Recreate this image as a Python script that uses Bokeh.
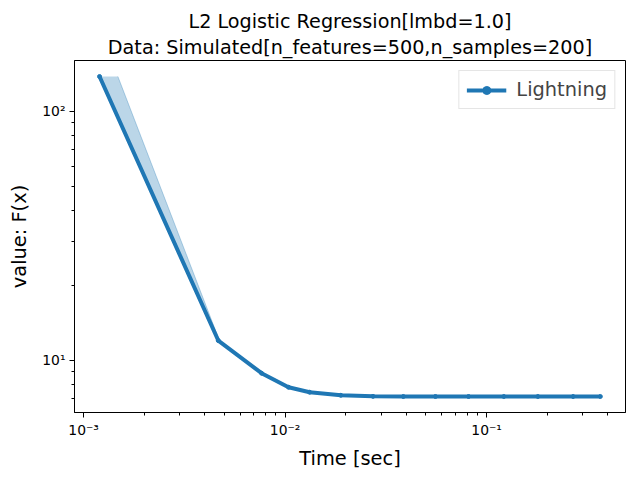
import numpy as np
from bokeh.plotting import figure
from bokeh.models import (FixedTicker, Title, Legend, LegendItem, Range1d,
                          ColumnDataSource, CustomJSTickFormatter)
from bokeh.embed import file_html
from bokeh.resources import INLINE

# ---- data ----
solver = "Lightning"
time_median = [1.20e-3, 4.66e-3, 7.64e-3, 1.04e-2, 1.324e-2, 1.89e-2, 2.73e-2,
               3.86e-2, 5.57e-2, 8.13e-2, 0.1217, 0.1795, 0.2685, 0.3665]
time_q9 = [1.48e-3, 4.72e-3, 7.70e-3, 1.05e-2, 1.33e-2, 1.90e-2, 2.75e-2,
           3.88e-2, 5.60e-2, 8.16e-2, 0.1222, 0.1800, 0.2690, 0.3670]
objective = [138.2, 12.0, 8.87, 7.79, 7.44, 7.23, 7.16,
             7.15, 7.15, 7.15, 7.15, 7.15, 7.15, 7.15]

title1 = "L2 Logistic Regression[lmbd=1.0]"
title2 = "Data: Simulated[n_features=500,n_samples=200]"
x_major = [1e-3, 1e-2, 1e-1]
y_major = [10, 100]

COLOR = "#1f77b4"
FONT = "DejaVu Sans"


def log_limits(vals, margin=0.05):
    lo, hi = np.log10(min(vals)), np.log10(max(vals))
    span = hi - lo
    return 10 ** (lo - margin * span), 10 ** (hi + margin * span)


xlo, xhi = log_limits(time_median + time_q9)
ylo, yhi = log_limits(objective)

p = figure(width=632, height=472, x_axis_type="log", y_axis_type="log",
           x_range=Range1d(xlo, xhi), y_range=Range1d(ylo, yhi),
           output_backend="svg", toolbar_location=None,
           min_border_left=74, min_border_right=7, min_border_top=60,
           min_border_bottom=60)

p.add_layout(Title(text=title2, align="center", text_font_size="19.2px",
                   text_color="black", text_font_style="normal",
                   text_font=FONT, standoff=3), "above")
p.add_layout(Title(text=title1, align="center", text_font_size="19.2px",
                   text_color="black", text_font_style="normal",
                   text_font=FONT, standoff=0), "above")

src = ColumnDataSource(dict(t=time_median, t9=time_q9, y=objective))
p.harea(x1="t", x2="t9", y="y", source=src, fill_color=COLOR, fill_alpha=0.3)
p.line(x="t9", y="y", source=src, line_color=COLOR, line_alpha=0.3, line_width=1)
ln = p.line(x="t", y="y", source=src, line_color=COLOR, line_width=4)
pts = p.scatter(x="t", y="y", source=src, size=4, fill_color=COLOR, line_color=COLOR)

# ticks
def minor_ticks(lo, hi):
    out = []
    for e in range(int(np.floor(np.log10(lo))) - 1, int(np.ceil(np.log10(hi))) + 1):
        for m in range(2, 10):
            v = m * 10.0 ** e
            if lo <= v <= hi:
                out.append(v)
    return out

p.xaxis.ticker = FixedTicker(ticks=x_major, minor_ticks=minor_ticks(xlo, xhi))
p.yaxis.ticker = FixedTicker(ticks=y_major, minor_ticks=minor_ticks(ylo, yhi))

fmt = CustomJSTickFormatter(code="""
const sup = {'-':'\u207b','0':'\u2070','1':'\u00b9','2':'\u00b2','3':'\u00b3',
             '4':'\u2074','5':'\u2075','6':'\u2076','7':'\u2077','8':'\u2078','9':'\u2079'};
const e = Math.round(Math.log10(tick)).toString();
return '10' + e.split('').map(c => sup[c]).join('');
""")
for ax in (p.xaxis[0], p.yaxis[0]):
    ax.formatter = fmt
    ax.major_label_text_font = FONT
    ax.major_label_text_font_size = "13.9px"
    ax.major_label_text_color = "black"
    ax.axis_label_text_font = FONT
    ax.axis_label_text_font_size = "19.4px"
    ax.axis_label_text_font_style = "normal"
    ax.axis_label_text_color = "black"
    ax.axis_line_color = "black"
    ax.major_tick_line_color = "black"
    ax.minor_tick_line_color = "black"
    ax.major_tick_out = 5
    ax.major_tick_in = 0
    ax.minor_tick_out = 3
    ax.minor_tick_in = 0

p.xaxis.axis_label = "Time [sec]"
p.yaxis.axis_label = "value: F(x)"
p.xaxis.major_label_standoff = 4
p.yaxis.major_label_standoff = 4
p.xaxis.axis_label_standoff = 6
p.yaxis.axis_label_standoff = 8

p.xgrid.visible = False
p.ygrid.visible = False
p.outline_line_color = "black"
p.outline_line_alpha = 1
p.outline_line_width = 1

legend = Legend(items=[LegendItem(label=solver, renderers=[ln, pts])],
                location="top_right", label_text_font=FONT,
                label_text_font_size="19.4px", glyph_width=40, glyph_height=20,
                label_standoff=10, padding=7, margin=10,
                border_line_color="#cccccc", border_line_width=1,
                background_fill_alpha=0.8)
p.add_layout(legend, "center")

open("out.html", "w").write(file_html(p, INLINE))
